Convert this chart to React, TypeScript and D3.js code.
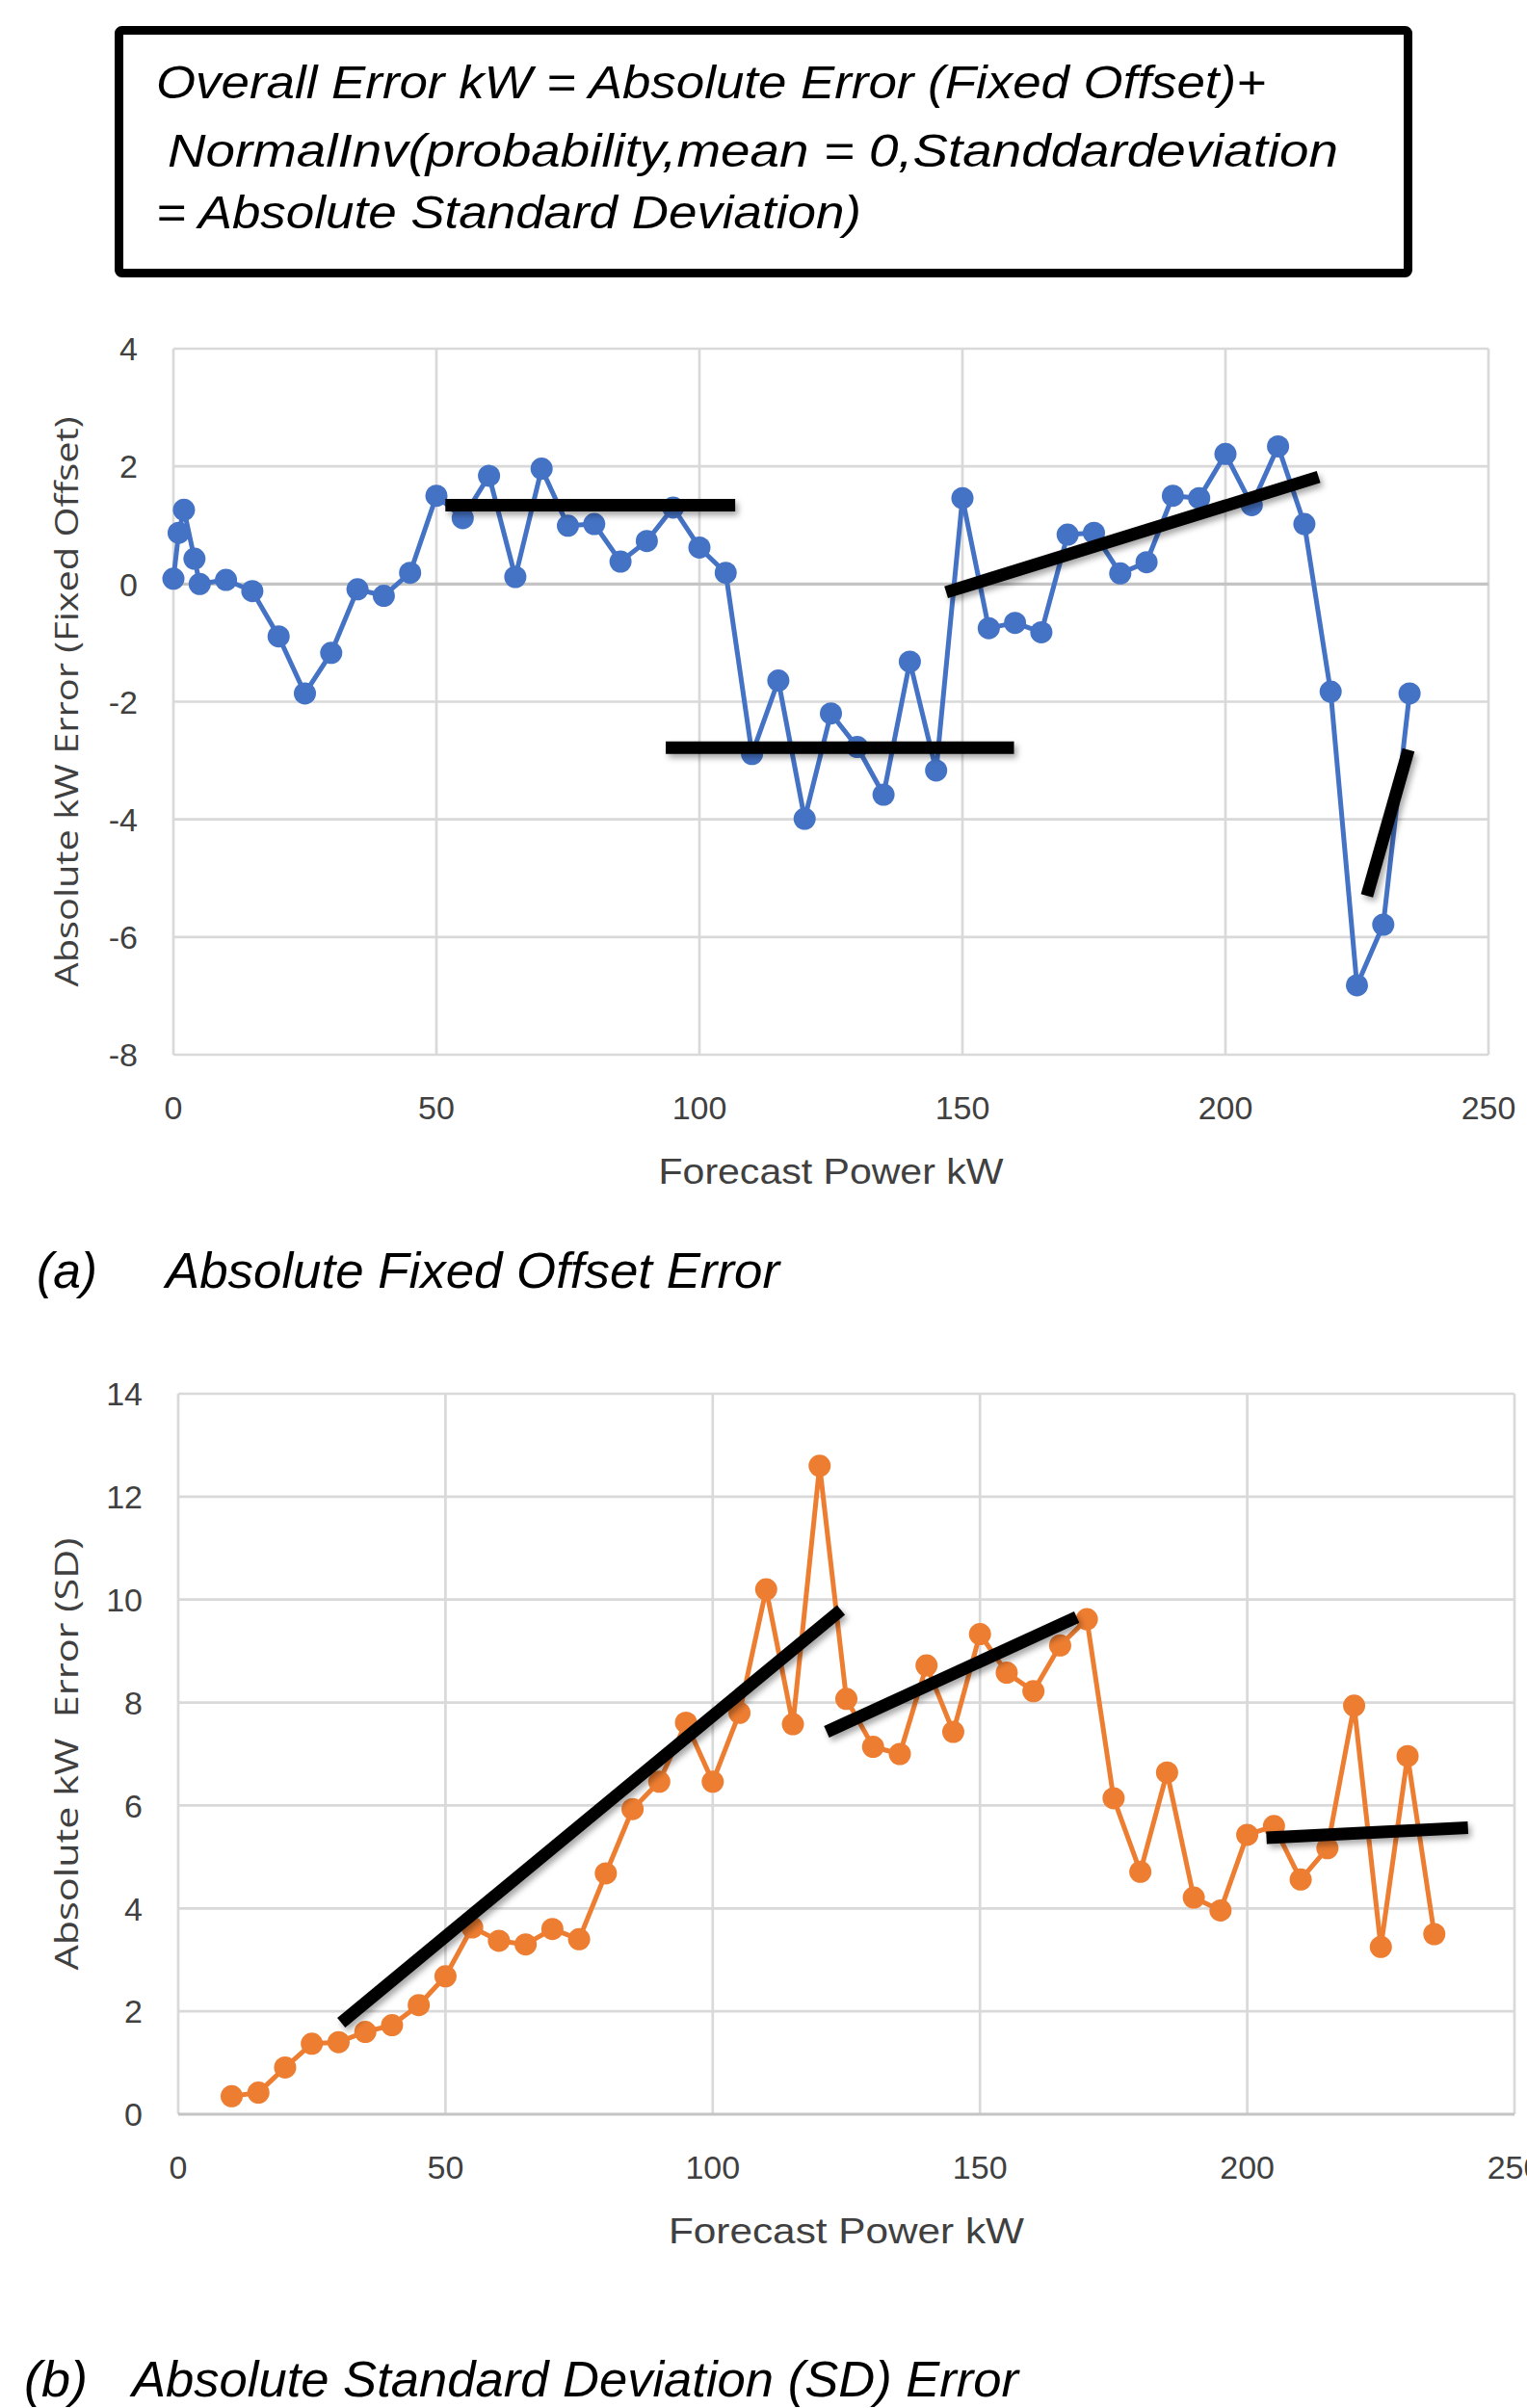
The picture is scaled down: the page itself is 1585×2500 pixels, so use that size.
import { useEffect, useRef } from 'react';
import * as d3 from 'd3';

// chart (a) - absolute fixed offset error
const offsetX = [0, 1, 2, 4, 5, 10, 15, 20, 25, 30, 35, 40, 45, 50, 55, 60, 65, 70, 75, 80, 85, 90, 95, 100, 105, 110, 115, 120, 125, 130, 135, 140, 145, 150, 155, 160, 165, 170, 175, 180, 185, 190, 195, 200, 205, 210, 215, 220, 225, 230, 235];
const offsetY = [0.09, 0.87, 1.26, 0.43, 0.0, 0.07, -0.12, -0.89, -1.86, -1.17, -0.09, -0.2, 0.19, 1.5, 1.12, 1.84, 0.12, 1.96, 0.99, 1.02, 0.38, 0.73, 1.3, 0.62, 0.19, -2.89, -1.64, -3.99, -2.2, -2.77, -3.58, -1.32, -3.17, 1.46, -0.75, -0.66, -0.82, 0.84, 0.87, 0.18, 0.37, 1.5, 1.46, 2.21, 1.34, 2.34, 1.02, -1.83, -6.82, -5.79, -1.86];
const offsetTrends = [
  [51.7, 1.34, 106.8, 1.34],
  [93.6, -2.78, 159.8, -2.78],
  [146.9, -0.14, 217.7, 1.82],
  [226.9, -5.3, 234.8, -2.82],
];
const offsetYTicks = [-8, -6, -4, -2, 0, 2, 4];

// chart (b) - absolute standard deviation error
const sdX = [10, 15, 20, 25, 30, 35, 40, 45, 50, 55, 60, 65, 70, 75, 80, 85, 90, 95, 100, 105, 110, 115, 120, 125, 130, 135, 140, 145, 150, 155, 160, 165, 170, 175, 180, 185, 190, 195, 200, 205, 210, 215, 220, 225, 230, 235];
const sdY = [0.35, 0.42, 0.91, 1.37, 1.4, 1.6, 1.73, 2.12, 2.68, 3.63, 3.37, 3.3, 3.6, 3.4, 4.68, 5.93, 6.46, 7.61, 6.46, 7.8, 10.2, 7.58, 12.6, 8.07, 7.14, 7.0, 8.72, 7.43, 9.33, 8.58, 8.22, 9.11, 9.62, 6.14, 4.71, 6.64, 4.21, 3.96, 5.43, 5.6, 4.56, 5.17, 7.94, 3.25, 6.96, 3.5];
const sdTrends = [
  [30.5, 1.78, 124, 9.8],
  [121.3, 7.43, 168.1, 9.66],
  [203.6, 5.37, 241.3, 5.57],
];
const sdYTicks = [0, 2, 4, 6, 8, 10, 12, 14];

const xTicks = [0, 50, 100, 150, 200, 250];

const W = 1585;
const H = 2500;
const narrow = "'Liberation Sans Narrow', 'Liberation Sans', sans-serif";

export default function App() {
  const svgRef = useRef<SVGSVGElement>(null);

  useEffect(() => {
    if (!svgRef.current) return;
    const svg = d3.select(svgRef.current);
    svg.selectAll('*').remove();

    svg.append('rect').attr('width', W).attr('height', H).attr('fill', '#fff');

    const f = svg.append('defs').append('filter')
      .attr('id', 'shadow')
      .attr('filterUnits', 'userSpaceOnUse')
      .attr('x', 0).attr('y', 0).attr('width', W).attr('height', H);
    f.append('feDropShadow')
      .attr('dx', 3).attr('dy', 4).attr('stdDeviation', 3)
      .attr('flood-color', '#000').attr('flood-opacity', 0.35);

    // formula box
    svg.append('rect')
      .attr('x', 123.5).attr('y', 31.5).attr('width', 1338).attr('height', 252).attr('rx', 3)
      .attr('fill', '#fff').attr('stroke', '#000').attr('stroke-width', 9);
    const boxLines = [
      { t: 'Overall Error kW = Absolute Error (Fixed Offset)+', x: 162, y: 102, len: 1152 },
      { t: 'NormalInv(probability,mean = 0,Standdardeviation', x: 174, y: 173, len: 1215 },
      { t: '= Absolute Standard Deviation)', x: 162, y: 237, len: 732 },
    ];
    boxLines.forEach(l => {
      svg.append('text')
        .attr('x', l.x).attr('y', l.y)
        .attr('font-family', narrow).attr('font-style', 'italic').attr('font-size', 48)
        .attr('textLength', l.len).attr('lengthAdjust', 'spacingAndGlyphs')
        .attr('fill', '#000').text(l.t);
    });

    function drawChart(cfg: any) {
      const x = d3.scaleLinear().domain([0, 250]).range([cfg.left, cfg.right]);
      const y = d3.scaleLinear().domain(cfg.yDomain).range([cfg.bottom, cfg.top]);
      const g = svg.append('g');

      // grid
      g.selectAll('.vg').data(xTicks).enter().append('line')
        .attr('x1', d => x(d)).attr('x2', d => x(d))
        .attr('y1', cfg.top).attr('y2', cfg.bottom)
        .attr('stroke', '#d9d9d9').attr('stroke-width', 2.7);
      g.selectAll('.hg').data(cfg.yTicks).enter().append('line')
        .attr('x1', cfg.left).attr('x2', cfg.right)
        .attr('y1', (d: number) => y(d)).attr('y2', (d: number) => y(d))
        .attr('stroke', (d: number) => d === 0 ? '#c4c4c4' : '#d9d9d9')
        .attr('stroke-width', (d: number) => d === 0 ? 3.2 : 2.7);

      // tick labels
      g.selectAll('.yl').data(cfg.yTicks).enter().append('text')
        .attr('x', cfg.left - 37).attr('y', (d: number) => y(d)).attr('dy', '0.36em')
        .attr('text-anchor', 'end')
        .attr('font-family', narrow).attr('font-size', 34).attr('fill', '#404040')
        .text((d: number) => d);
      g.selectAll('.xl').data(xTicks).enter().append('text')
        .attr('x', d => x(d)).attr('y', cfg.bottom + 67)
        .attr('text-anchor', 'middle')
        .attr('font-family', narrow).attr('font-size', 34).attr('fill', '#404040')
        .text(d => d);

      // axis titles
      g.append('text')
        .attr('x', (cfg.left + cfg.right) / 2).attr('y', cfg.bottom + 134)
        .attr('text-anchor', 'middle')
        .attr('font-family', narrow).attr('font-size', 37).attr('fill', '#404040')
        .attr('textLength', cfg.xTitleLen).attr('lengthAdjust', 'spacingAndGlyphs')
        .text('Forecast Power kW');
      const cy = (cfg.top + cfg.bottom) / 2;
      g.append('text')
        .attr('transform', `translate(81,${cy}) rotate(-90)`)
        .attr('text-anchor', 'middle')
        .attr('font-family', "'Open Sans', sans-serif").attr('font-size', 33).attr('fill', '#404040')
        .attr('textLength', cfg.yTitleLen).attr('lengthAdjust', 'spacingAndGlyphs')
        .style('white-space', 'pre')
        .text(cfg.yTitle);

      // series
      const pts = cfg.xs.map((v: number, i: number) => [v, cfg.ys[i]]);
      const line = d3.line<any>().x(d => x(d[0])).y(d => y(d[1]));
      g.append('path').attr('d', line(pts))
        .attr('fill', 'none').attr('stroke', cfg.color).attr('stroke-width', 5)
        .attr('stroke-linejoin', 'round');
      g.selectAll('.pt').data(pts).enter().append('circle')
        .attr('cx', (d: any) => x(d[0])).attr('cy', (d: any) => y(d[1]))
        .attr('r', 11.5).attr('fill', cfg.color);

      // hand-drawn trend lines
      g.selectAll('.tr').data(cfg.trends).enter().append('line')
        .attr('x1', (d: any) => x(d[0])).attr('y1', (d: any) => y(d[1]))
        .attr('x2', (d: any) => x(d[2])).attr('y2', (d: any) => y(d[3]))
        .attr('stroke', '#000').attr('stroke-width', 13)
        .attr('filter', 'url(#shadow)');

      // caption
      g.append('text')
        .attr('x', cfg.capX).attr('y', cfg.capY)
        .attr('font-family', narrow).attr('font-style', 'italic').attr('font-size', 52)
        .attr('textLength', cfg.capTagLen).attr('lengthAdjust', 'spacingAndGlyphs')
        .attr('fill', '#000').text(cfg.capTag);
      g.append('text')
        .attr('x', cfg.capTextX).attr('y', cfg.capY)
        .attr('font-family', narrow).attr('font-style', 'italic').attr('font-size', 52)
        .attr('textLength', cfg.capTextLen).attr('lengthAdjust', 'spacingAndGlyphs')
        .attr('fill', '#000').text(cfg.capText);
    }

    drawChart({
      xs: offsetX, ys: offsetY, trends: offsetTrends, yTicks: offsetYTicks,
      yDomain: [-8, 4], color: '#4472c4',
      left: 180, right: 1545, top: 362, bottom: 1095,
      yTitle: 'Absolute kW Error (Fixed Offset)', yTitleLen: 592, xTitleLen: 358,
      capTag: '(a)', capTagLen: 63, capX: 38, capY: 1337,
      capText: 'Absolute Fixed Offset Error', capTextX: 172, capTextLen: 637,
    });

    drawChart({
      xs: sdX, ys: sdY, trends: sdTrends, yTicks: sdYTicks,
      yDomain: [0, 14], color: '#ed7d31',
      left: 185, right: 1572, top: 1447, bottom: 2195,
      yTitle: 'Absolute kW  Error (SD)', yTitleLen: 449, xTitleLen: 369,
      capTag: '(b)', capTagLen: 66, capX: 25, capY: 2488,
      capText: 'Absolute Standard Deviation (SD) Error', capTextX: 137, capTextLen: 920,
    });
  }, []);

  return (
    <svg
      ref={svgRef}
      width={W}
      height={H}
      viewBox={`0 0 ${W} ${H}`}
      style={{ position: 'absolute', left: 0, top: 0, display: 'block' }}
    />
  );
}
